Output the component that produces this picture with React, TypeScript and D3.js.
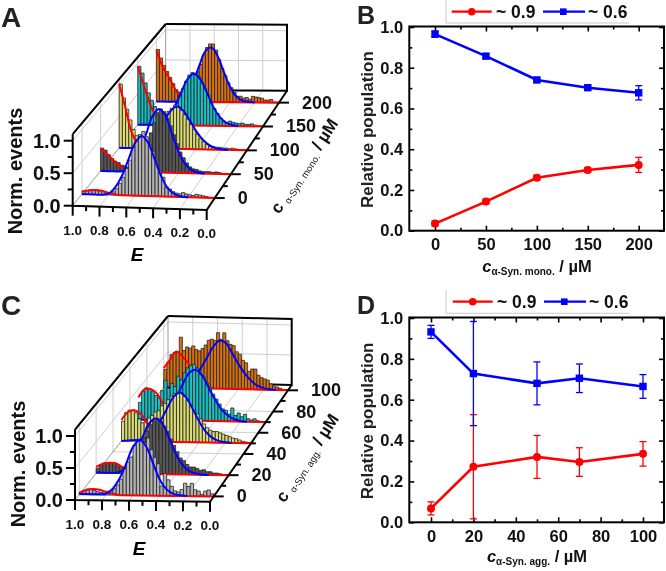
import React from 'react';
import { select, scaleLinear, line, curveCatmullRom, curveLinear, axisBottom, axisLeft, axisTop, axisRight, range } from 'd3';

// population curves (panels B and D)
const concMono = [0, 50, 100, 150, 200];
const redMono = [0.035, 0.143, 0.26, 0.298, 0.323];
const redMonoErr = [0.012, 0.012, 0.012, 0.012, 0.037];
const blueMono = [0.965, 0.857, 0.74, 0.702, 0.677];
const blueMonoErr = [0.015, 0.012, 0.012, 0.012, 0.035];

const concAgg = [0, 20, 50, 70, 100];
const redAgg = [0.068, 0.272, 0.32, 0.295, 0.335];
const redAggErr = [0.032, 0.255, 0.105, 0.07, 0.06];
const blueAgg = [0.932, 0.728, 0.68, 0.705, 0.665];
const blueAggErr = [0.032, 0.255, 0.105, 0.07, 0.058];

const popTicks = [0, 0.2, 0.4, 0.6, 0.8, 1.0];
const popMinor = [0.1, 0.3, 0.5, 0.7, 0.9];
const monoTicks = [0, 50, 100, 150, 200];
const monoMinor = [25, 75, 125, 175];
const aggTicks = [0, 20, 40, 60, 80, 100];
const aggMinor = [10, 30, 50, 70, 90];
const legendLabels = ['~ 0.9', '~ 0.6'];

// FRET histograms, 40 bins from E = 1.0 down to 0.0
const histA0 = [.05, .06, .07, .07, .06, .06, .05, .04, .03, .05, .1, .18, .28, .42, .55, .75, .85, .95, 1.0, .92, .8, .7, .52, .4, .3, .15, .12, .08, .06, .05, .07, .05, .04, .03, .05, .04, .03, .02, .01, .01];
const histA1 = [.36, .33, .26, .2, .16, .14, .1, .09, .07, .06, .07, .12, .2, .32, .46, .62, .78, .92, 1.0, .96, .86, .74, .6, .46, .33, .24, .16, .1, .07, .06, .04, .03, .03, .03, .02, .03, .02, .01, .01, 0];
const histA2 = [1.02, .8, .62, .45, .3, .2, .12, .1, .08, .1, .14, .2, .35, .48, .55, .6, .65, .7, .68, .62, .55, .48, .4, .32, .24, .17, .13, .08, .05, .05, .04, .04, .03, .03, .02, .03, .02, .01, .01, .01];
const histA3 = [.95, .84, .68, .52, .4, .3, .2, .14, .1, .12, .18, .26, .36, .48, .6, .72, .82, .86, .84, .8, .7, .6, .5, .38, .28, .2, .12, .08, .06, .08, .06, .05, .04, .05, .03, .03, .04, .02, .01, .01];
const histA4 = [.86, .72, .6, .5, .4, .3, .2, .16, .14, .15, .2, .3, .38, .5, .62, .78, .9, .96, .96, .86, .7, .56, .44, .32, .24, .16, .1, .1, .07, .08, .05, .1, .09, .08, .07, .04, .04, .05, .01, .01];

const histC0 = [.04, .07, .09, .09, .07, .05, .04, .05, .06, .07, .1, .16, .25, .42, .52, .6, .78, .85, .87, .83, .9, .72, .6, .5, .15, .35, .25, .15, .08, .06, .1, .2, .15, .2, .1, .08, .03, .08, .1, .04];
const histC1 = [.08, .12, .16, .17, .17, .17, .14, .11, .1, .12, .18, .25, .36, .45, .58, .68, .78, .84, .88, .84, .76, .68, .56, .46, .36, .26, .22, .16, .12, .12, .1, .07, .08, .05, .05, .03, .03, .02, .01, .01];
const histC2 = [.32, .46, .5, .5, .46, .36, .3, .32, .38, .42, .48, .5, .58, .62, .68, .74, .78, .82, .8, .74, .68, .6, .5, .46, .38, .3, .24, .2, .18, .18, .16, .14, .12, .1, .08, .07, .05, .03, .02, .01];
const histC3 = [.28, .46, .52, .5, .46, .4, .36, .48, .65, .52, .6, .55, .72, .66, .78, .86, .9, .92, .86, .76, .72, .62, .55, .44, .36, .28, .2, .18, .12, .22, .1, .14, .08, .12, .05, .03, .05, .02, .01, .01];
const histC4 = [.3, .42, .55, .58, .6, .84, .62, .68, .66, .7, .64, .62, .66, .72, .8, .82, .8, .93, .82, .93, .8, .74, .72, .62, .58, .48, .44, .3, .34, .34, .24, .2, .18, .16, .1, .06, .05, .03, .01, .01];

// fitted curves read at E = 1.0, 0.95, 0.90 ...
const redA0 = [.04, .06, .07, .06, .03, .01, 0];
const redA1 = [.36, .27, .17, .08, .02, 0, 0];
const redA2 = [1.03, .63, .24, .07, .01, 0, 0];
const redA3 = [.95, .63, .33, .12, .03, 0, 0];
const redA4 = [.85, .58, .41, .22, .08, .02, 0];
const blueA0 = [0, 0, 0, 0, .02, .12, .3, .56, .82, .93, .82, .56, .3, .12, .04, .01, 0];
const blueA1 = [0, 0, 0, 0, .03, .14, .33, .6, .89, 1.0, .89, .6, .33, .14, .05, .01, 0];
const blueA2 = [0, 0, 0, .01, .05, .12, .25, .43, .6, .68, .62, .47, .3, .17, .08, .03, .01, 0];
const blueA3 = [0, 0, 0, .01, .05, .15, .32, .55, .76, .84, .75, .55, .32, .16, .06, .02, 0];
const blueA4 = [0, 0, 0, 0, .03, .13, .33, .6, .84, .9, .76, .5, .26, .1, .03, .01, 0];

const redC0 = [.03, .07, .09, .08, .05, .02, 0];
const redC1 = [.1, .15, .17, .16, .1, .05, .02];
const redC2 = [.34, .47, .5, .44, .28, .12, .04];
const redC3 = [.36, .5, .5, .42, .24, .1, .03];
const redC4 = [.32, .46, .6, .52, .4, .2, .08];
const blueC0 = [.01, .01, .01, .01, .02, .1, .26, .5, .76, .87, .76, .5, .25, .1, .03, .01, 0];
const blueC1 = [.01, .01, .01, .01, .05, .16, .33, .58, .8, .88, .8, .58, .33, .16, .06, .02, 0, 0];
const blueC2 = [0, .01, .02, .03, .07, .18, .33, .53, .72, .8, .72, .54, .34, .18, .08, .03, .01, 0];
const blueC3 = [0, 0, .01, .03, .09, .2, .38, .6, .78, .83, .74, .55, .36, .2, .1, .04, .01, 0];
const blueC4 = [0, 0, .01, .03, .08, .18, .34, .52, .7, .8, .76, .6, .42, .27, .15, .07, .03, .01, 0];

const barColors = ['#b4b4b4', '#585858', '#dcdc70', '#18c0c4', '#d8720e'];
const eTicks = [1.0, 0.8, 0.6, 0.4, 0.2, 0.0];
const eMinor = [0.9, 0.7, 0.5, 0.3, 0.1];
const zTicks = [0, 0.5, 1.0];
const zMinor = [0.25, 0.75];

const FONT = '"Liberation Sans", Arial, sans-serif';
const RED = '#ff0000';
const BLUE = '#0000ff';

const panelA = {
    fl: [72.7, 205.7], fr: [206.7, 210], bl: [165.7, 90], br: [287, 90.7],
    zFront: 65, zBack: 60,
    depthDomain: [-25, 225],
    conc: concMono,
    depthTicks: monoTicks, depthMinor: monoMinor,
    hists: [histA0, histA1, histA2, histA3, histA4],
    reds: [redA0, redA1, redA2, redA3, redA4],
    blues: [blueA0, blueA1, blueA2, blueA3, blueA4],
    sub: 'α-Syn. mono.',
    eLabel: [137, 261],
    zTitle: [21.5, 171],
    depthTitle: [309, 169],
};
const panelC = {
    fl: [75, 500], fr: [210, 501.7], bl: [168, 382], br: [291.7, 385],
    zFront: 64, zBack: 60,
    depthDomain: [-5, 105],
    conc: concAgg,
    depthTicks: aggTicks, depthMinor: aggMinor,
    hists: [histC0, histC1, histC2, histC3, histC4],
    reds: [redC0, redC1, redC2, redC3, redC4],
    blues: [blueC0, blueC1, blueC2, blueC3, blueC4],
    sub: 'α-Syn. agg.',
    eLabel: [139, 555],
    zTitle: [25, 464],
    depthTitle: [312, 461],
};
const panelB = {
    box: [409.3, 664, 26.5, 230.7],
    xPos: [435, 638.7], xVal: [0, 200], yTop: 27,
    conc: concMono, red: redMono, redErr: redMonoErr, blue: blueMono, blueErr: blueMonoErr,
    ticks: monoTicks, minor: monoMinor,
    sub: 'α-Syn. mono.',
    legendY: 11.7, legendTop: 0, legendBottom: 23, legendDx: 0,
    titleY: 272, titleX: 537,
};
const panelD = {
    box: [409.3, 664, 317.5, 522.3],
    xPos: [431, 643], xVal: [0, 100], yTop: 318,
    conc: concAgg, red: redAgg, redErr: redAggErr, blue: blueAgg, blueErr: blueAggErr,
    ticks: aggTicks, minor: aggMinor,
    sub: 'α-Syn. agg.',
    legendY: 301.7, legendTop: 290, legendBottom: 313.3, legendDx: 1,
    titleY: 562, titleX: 537,
};

const waterfall = (svg: any, p: any) => {
    const eScale = scaleLinear().domain([1, 0]).range([0, 1]);
    const depth = scaleLinear().domain(p.depthDomain).range([0, 1]);
    // bilinear floor plus a height which shrinks slightly to the back
    const project = (e: number, c: number, z: number): [number, number] => {
        const u = eScale(e), v = depth(c);
        const x0 = p.fl[0] + (p.fr[0] - p.fl[0]) * u, y0 = p.fl[1] + (p.fr[1] - p.fl[1]) * u;
        const x1 = p.bl[0] + (p.br[0] - p.bl[0]) * u, y1 = p.bl[1] + (p.br[1] - p.bl[1]) * u;
        const h = p.zFront + (p.zBack - p.zFront) * v;
        return [x0 + (x1 - x0) * v, y0 + (y1 - y0) * v - z * h];
    };
    const straight = line().curve(curveLinear);
    const smooth = line().curve(curveCatmullRom);
    const [d0, d1] = p.depthDomain;
    const g = svg.append('g');
    const seg = (pts: any[], color: string, width: number) =>
        g.append('path').attr('d', straight(pts)).attr('fill', 'none').attr('stroke', color).attr('stroke-width', width);

    // walls with their grid
    const gray = '#cfcfcf';
    [0.8, 0.6, 0.4, 0.2].forEach(e => {
        seg([project(e, d0, 0), project(e, d1, 0), project(e, d1, 1.1)], gray, 1);
    });
    zTicks.slice(1).forEach(z => {
        seg([project(1, d0, z), project(1, d1, z), project(0, d1, z)], gray, 1);
    });
    p.depthTicks.forEach((c: number) => {
        seg([project(0, c, 0), project(1, c, 0), project(1, c, 1.1)], gray, 1);
    });
    seg([project(1, d0, 0), project(1, d1, 0), project(1, d1, 1.1)], '#9a9a9a', 1);
    seg([project(1, d1, 1.1), project(0, d1, 1.1), project(0, d1, 0), project(0.45, d1, 0)], '#000', 2);

    // series from back to front
    range(4, -1, -1).forEach((s: number) => {
        const c = p.conc[s];
        p.hists[s].forEach((v: number, i: number) => {
            const hi = 1 - i * 0.025, lo = hi - 0.025;
            g.append('path')
                .attr('d', straight([project(hi, c, 0), project(hi, c, v), project(lo, c, v), project(lo, c, 0)]) + 'Z')
                .attr('fill', barColors[s])
                .attr('stroke', '#222')
                .attr('stroke-width', 0.8);
        });
        const redPts = p.reds[s].map((z: number, i: number) => project(1 - i * 0.05, c, z));
        g.append('path').attr('d', smooth(redPts)).attr('fill', 'none').attr('stroke', RED).attr('stroke-width', 2);
        seg([project(0.7, c, 0), project(0, c, 0)], RED, 2);
        const bluePts = p.blues[s].map((z: number, i: number) => project(1 - i * 0.05, c, z));
        g.append('path').attr('d', smooth(bluePts)).attr('fill', 'none').attr('stroke', BLUE).attr('stroke-width', 2);
    });

    // frame in front of the bars
    seg([project(1, d0, 1.1), project(1, d1, 1.1)], '#000', 2);
    seg([project(1, d0, 1.1), project(1, d0, 0), project(0, d0, 0), project(0, d1, 0)], '#000', 2);

    const label = (x: number, y: number, text: string, size: number, anchor = 'middle') =>
        g.append('text').attr('x', x).attr('y', y).attr('font-family', FONT).attr('font-weight', 'bold')
            .attr('font-size', size).attr('text-anchor', anchor).attr('fill', '#111').text(text);

    // E axis
    eTicks.forEach(e => {
        const [x, y] = project(e, d0, 0);
        seg([[x, y], [x, y + 10]], '#000', 2);
        label(x, y + 29 - eScale(e), e.toFixed(1), 13.5);
    });
    eMinor.forEach(e => {
        const [x, y] = project(e, d0, 0);
        seg([[x, y], [x, y + 5]], '#000', 2);
    });
    // height axis
    zTicks.forEach(z => {
        const [x, y] = project(1, d0, z);
        seg([[x, y], [x - 9, y]], '#000', 2);
        label(x - 12, y + 7, z.toFixed(1), 20, 'end');
    });
    zMinor.forEach(z => {
        const [x, y] = project(1, d0, z);
        seg([[x, y], [x - 5, y]], '#000', 2);
    });
    // concentration axis
    p.depthTicks.forEach((c: number) => {
        const [x, y] = project(0, c, 0);
        seg([[x, y], [x + 10, y]], '#000', 2);
        label(x + 23, y + 6, String(c), 18, 'start');
    });
    p.depthMinor.forEach((c: number) => {
        const [x, y] = project(0, c, 0);
        seg([[x, y], [x + 5, y]], '#000', 2);
    });

    g.append('text').attr('x', p.eLabel[0]).attr('y', p.eLabel[1]).attr('text-anchor', 'middle')
        .attr('font-family', FONT).attr('font-weight', 'bold').attr('font-style', 'italic').attr('font-size', 19).text('E');
    g.append('text').attr('transform', `translate(${p.zTitle[0]},${p.zTitle[1]}) rotate(-90)`).attr('text-anchor', 'middle')
        .attr('font-family', FONT).attr('font-weight', 'bold').attr('font-size', 20).attr('fill', '#111').text('Norm. events');
    const title = g.append('text').attr('transform', `translate(${p.depthTitle[0]},${p.depthTitle[1]}) rotate(-57)`)
        .attr('text-anchor', 'middle').attr('font-family', FONT).attr('font-weight', 'bold').attr('font-size', 17).attr('fill', '#111');
    title.append('tspan').text('c ');
    title.append('tspan').attr('font-size', 9.5).attr('font-weight', 'normal').attr('dy', 3).text(p.sub);
    title.append('tspan').attr('dy', -3).text('  / µM');
};

const population = (svg: any, p: any) => {
    const [left, right, top, bottom] = p.box;
    const slope = (p.xPos[1] - p.xPos[0]) / (p.xVal[1] - p.xVal[0]);
    const x = scaleLinear().domain([p.xVal[0] - (p.xPos[0] - left) / slope, p.xVal[1] + (right - p.xPos[1]) / slope]).range([left, right]);
    const y = scaleLinear().domain([0, 1]).range([bottom, p.yTop]);
    const g = svg.append('g');

    const styleAxis = (a: any) => {
        a.select('.domain').remove();
        a.selectAll('line').attr('stroke', '#000').attr('stroke-width', 1.6);
        a.selectAll('text').attr('font-family', FONT).attr('font-weight', 'bold').attr('font-size', 16.5).attr('fill', '#111');
    };
    const noLabel = () => '';
    g.append('g').attr('transform', `translate(0,${bottom})`)
        .call(axisBottom(x).tickValues(p.ticks).tickFormat((d: any) => String(d)).tickSize(-5).tickPadding(8)).call(styleAxis);
    g.append('g').attr('transform', `translate(0,${bottom})`)
        .call(axisBottom(x).tickValues(p.minor).tickFormat(noLabel).tickSize(-3)).call(styleAxis);
    g.append('g').attr('transform', `translate(0,${top})`)
        .call(axisTop(x).tickValues(p.ticks).tickFormat(noLabel).tickSize(-5)).call(styleAxis);
    g.append('g').attr('transform', `translate(0,${top})`)
        .call(axisTop(x).tickValues(p.minor).tickFormat(noLabel).tickSize(-3)).call(styleAxis);
    g.append('g').attr('transform', `translate(${left},0)`)
        .call(axisLeft(y).tickValues(popTicks).tickFormat((d: any) => d.toFixed(1)).tickSize(-5).tickPadding(6)).call(styleAxis);
    g.append('g').attr('transform', `translate(${left},0)`)
        .call(axisLeft(y).tickValues(popMinor).tickFormat(noLabel).tickSize(-3)).call(styleAxis);
    g.append('g').attr('transform', `translate(${right},0)`)
        .call(axisRight(y).tickValues(popTicks).tickFormat(noLabel).tickSize(-5)).call(styleAxis);
    g.append('g').attr('transform', `translate(${right},0)`)
        .call(axisRight(y).tickValues(popMinor).tickFormat(noLabel).tickSize(-3)).call(styleAxis);
    g.append('rect').attr('x', left).attr('y', top).attr('width', right - left).attr('height', bottom - top)
        .attr('fill', 'none').attr('stroke', '#000').attr('stroke-width', 2);

    const path = line<number>().x((_, i) => x(p.conc[i])).y(d => y(d));
    const drawSeries = (vals: number[], errs: number[], color: string, square: boolean) => {
        vals.forEach((v, i) => {
            const cx = x(p.conc[i]);
            g.append('line').attr('x1', cx).attr('x2', cx).attr('y1', y(v - errs[i])).attr('y2', y(v + errs[i])).attr('stroke', color).attr('stroke-width', 1.3);
            [v - errs[i], v + errs[i]].forEach(e => {
                g.append('line').attr('x1', cx - 3.5).attr('x2', cx + 3.5).attr('y1', y(e)).attr('y2', y(e)).attr('stroke', color).attr('stroke-width', 1.3);
            });
        });
        g.append('path').attr('d', path(vals)).attr('fill', 'none').attr('stroke', color).attr('stroke-width', 2.6);
        vals.forEach((v, i) => {
            if (square) {
                g.append('rect').attr('x', x(p.conc[i]) - 3.7).attr('y', y(v) - 3.7).attr('width', 7.4).attr('height', 7.4).attr('fill', color);
            } else {
                g.append('circle').attr('cx', x(p.conc[i])).attr('cy', y(v)).attr('r', 4).attr('fill', color);
            }
        });
    };
    drawSeries(p.red, p.redErr, RED, false);
    drawSeries(p.blue, p.blueErr, BLUE, true);

    // legend
    const dx = p.legendDx, ly = p.legendY;
    g.append('path').attr('d', line()([[446, p.legendTop], [446, p.legendBottom], [629, p.legendBottom]]))
        .attr('fill', 'none').attr('stroke', '#c8c8c8').attr('stroke-width', 1);
    g.append('line').attr('x1', 451.7 + dx).attr('x2', 491.7 + dx).attr('y1', ly).attr('y2', ly).attr('stroke', RED).attr('stroke-width', 2.2);
    g.append('circle').attr('cx', 471.7 + dx).attr('cy', ly).attr('r', 3.8).attr('fill', RED);
    g.append('line').attr('x1', 543 + dx).attr('x2', 585 + dx).attr('y1', ly).attr('y2', ly).attr('stroke', BLUE).attr('stroke-width', 2.2);
    g.append('rect').attr('x', 560 + dx).attr('y', ly - 3.3).attr('width', 6.6).attr('height', 6.6).attr('fill', BLUE);
    [496, 588].forEach((tx, i) => {
        g.append('text').attr('x', tx + dx).attr('y', ly + 6).attr('font-family', FONT).attr('font-weight', 'bold')
            .attr('font-size', 17.5).attr('fill', '#111').text(legendLabels[i]);
    });

    // axis titles
    g.append('text').attr('transform', `translate(373,${(top + bottom) / 2 + 1}) rotate(-90)`).attr('text-anchor', 'middle')
        .attr('font-family', FONT).attr('font-weight', 'bold').attr('font-size', 17).attr('fill', '#222').text('Relative population');
    const t = g.append('text').attr('x', p.titleX).attr('y', p.titleY).attr('text-anchor', 'middle')
        .attr('font-family', FONT).attr('font-weight', 'bold').attr('font-size', 16.5).attr('fill', '#111');
    t.append('tspan').attr('font-style', 'italic').text('c');
    t.append('tspan').attr('font-size', 10).attr('dy', 3).text(p.sub);
    t.append('tspan').attr('dy', -3).text(' / µM');
};

const letters: [string, number, number, number][] = [['A', 1, 27, 28], ['B', 357, 24, 25], ['C', 1, 315, 28], ['D', 357, 313.5, 25]];

const App: React.FC = () => {
    const ref = React.useRef<SVGSVGElement>(null);
    React.useEffect(() => {
        const svg = select(ref.current);
        svg.selectAll('*').remove();
        waterfall(svg, panelA);
        waterfall(svg, panelC);
        population(svg, panelB);
        population(svg, panelD);
        letters.forEach(([s, x, y, size]) => {
            svg.append('text').attr('x', x).attr('y', y).attr('font-family', FONT).attr('font-weight', 'bold')
                .attr('font-size', size).attr('fill', '#222').text(s);
        });
    }, []);
    return <svg ref={ref} width={666} height={571} style={{ position: 'absolute', left: 0, top: 0, background: '#fff', filter: 'blur(0.35px)' }} />;
};

export default App;
